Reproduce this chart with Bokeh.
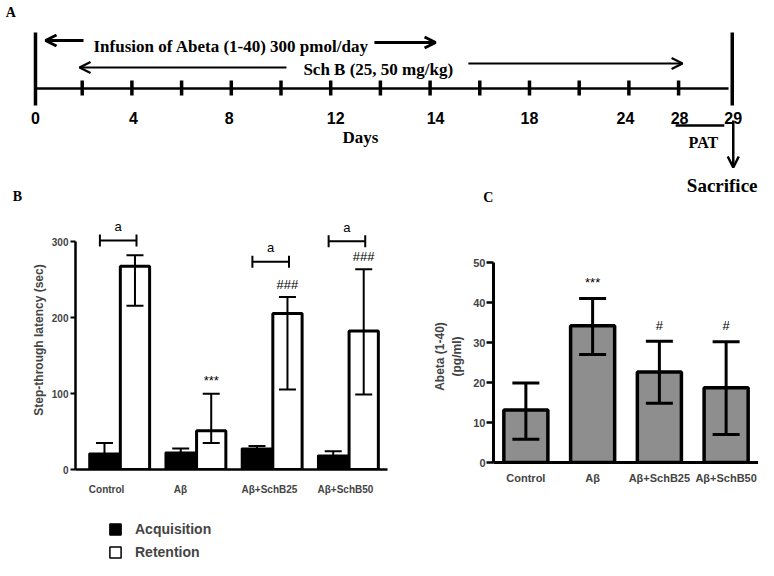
from bokeh.plotting import figure
from bokeh.models import (Range1d, FixedTicker, Whisker, TeeHead, Arrow, OpenHead,
                          ColumnDataSource, Legend, LegendItem)
from bokeh.layouts import column, row
from bokeh.core.properties import value
from bokeh.embed import file_html
from bokeh.resources import INLINE

# ---------------- Panel A : timeline (schematic slots) ----------------
day_labels = ["0", "4", "8", "12", "14", "18", "24", "28", "29"]
day_label_slots = [0.06, 2.03, 3.96, 6.1, 8.11, 10.0, 11.93, 13.02, 14.1]
tick_slots = list(range(1, 14))
timeline_start, timeline_end, end_bar = 0.06, 14.005, 14.08
infusion_text = "Infusion of Abeta (1-40) 300 pmol/day"
schb_text = "Sch B  (25, 50 mg/kg)"

# ---------------- Panel B : step-through latency ----------------
groups = ["Control", "Aβ", "Aβ+SchB25", "Aβ+SchB50"]
acq_mean = [21, 22.4, 27.7, 18.5]
acq_upper = [35, 27.7, 31, 24]
ret_mean = [268, 51, 205.6, 182.7]
ret_upper = [282.5, 100, 227.5, 264]
ret_lower = [216, 35, 105.5, 99]
b_sig = ["", "***", "###", "###"]
bracket_y = [302, None, 274, 301]
b_label_shift = [-0.43, -0.51, -0.09, -0.1]

# ---------------- Panel C : Abeta (1-40) ----------------
c_mean = [13.1, 34.2, 22.6, 18.7]
c_upper = [19.9, 41.0, 30.3, 30.2]
c_lower = [5.8, 27.0, 14.8, 7.0]
c_sig = ["", "***", "#", "#"]

SERIF = "Liberation Serif"
SANS = "Liberation Sans"
NAN = float("nan")

# ====================== Panel A ======================
A_H = 206
pA = figure(width=758, height=A_H, x_range=Range1d(-0.644, 14.608), y_range=Range1d(A_H, 0),
            x_axis_type=None, y_axis_type=None, min_border=0, outline_line_color=None,
            output_backend="svg", toolbar_location=None)
pA.background_fill_color = "white"
pA.segment(x0=[timeline_start, end_bar], y0=[32, 32], x1=[timeline_start, end_bar], y1=[105, 105],
           line_color="black", line_width=3.5)
pA.segment(x0=[timeline_start], y0=[88], x1=[timeline_end], y1=[88], line_color="black", line_width=2.5)
pA.segment(x0=tick_slots, y0=[80] * len(tick_slots), x1=tick_slots, y1=[95] * len(tick_slots),
           line_color="black", line_width=3.5)
pA.text(x=day_label_slots, y=[117] * len(day_labels), text=day_labels, text_align="center",
        text_baseline="middle", text_font=value(SANS), text_font_style="bold", text_font_size="16px")
pA.text(x=[6.6], y=[137], text=["Days"], text_align="center", text_baseline="middle",
        text_font=value(SERIF), text_font_style="bold", text_font_size="17px")
pA.text(x=[1.227], y=[46], text=[infusion_text], text_align="left", text_baseline="middle",
        text_font=value(SERIF), text_font_style="bold", text_font_size="17px")
pA.text(x=[7.0], y=[69], text=[schb_text], text_align="center", text_baseline="middle",
        text_font=value(SERIF), text_font_style="bold", text_font_size="17px")
for xs, ys, xe, ye, lw in [(1.027, 40, 0.262, 40, 3), (6.88, 42, 8.11, 42, 3),
                           (5.11, 67, 0.946, 67, 2.2), (8.77, 63, 13.08, 63, 2.2),
                           (14.1, 120, 14.1, 167, 2.5)]:
    pA.add_layout(Arrow(end=OpenHead(size=11, line_width=lw), x_start=xs, y_start=ys,
                        x_end=xe, y_end=ye, line_width=lw))
pA.segment(x0=[12.94], y0=[125], x1=[13.92], y1=[125], line_color="black", line_width=2.5)
pA.text(x=[13.5], y=[142], text=["PAT"], text_align="center", text_baseline="middle",
        text_font=value(SERIF), text_font_style="bold", text_font_size="16px")
pA.text(x=[14.588], y=[185], text=["Sacrifice"], text_align="right", text_baseline="middle",
        text_font=value(SERIF), text_font_style="bold", text_font_size="19px")
pA.text(x=[-0.54, -0.40, 9.07], y=[12, 196, 197], text=["A", "B", "C"], text_align="left",
        text_baseline="middle", text_font=value(SERIF), text_font_style="bold", text_font_size="14px")

# ====================== Panel B ======================
group_x = [1.45 + 2.5 * i for i in range(len(groups))]
acq_x = [g - 0.5 for g in group_x]
ret_x = [g + 0.5 for g in group_x]
acq_lower = [2 * m - u for m, u in zip(acq_mean, acq_upper)]
b_label_x = [round(g + s, 2) for g, s in zip(group_x, b_label_shift)]

pB = figure(width=430, height=294, x_range=Range1d(0, 10.23), y_range=Range1d(0, 341.4),
            min_border_left=75, min_border_right=43, min_border_top=4, min_border_bottom=31,
            output_backend="svg", toolbar_location=None, outline_line_color=None)
pB.grid.visible = False
pB.vbar(x=acq_x, top=acq_mean, width=1.0, fill_color="black", line_color="black", line_width=2)
pB.vbar(x=ret_x, top=ret_mean, width=0.96, fill_color="white", line_color="black", line_width=3)

srcA = ColumnDataSource(dict(x=acq_x, up=acq_upper, lo=acq_lower))
srcR = ColumnDataSource(dict(x=ret_x, up=ret_upper, lo=ret_lower))
for src in (srcA, srcR):
    w = Whisker(source=src, base="x", upper="up", lower="lo", line_width=2, level="annotation",
                upper_head=TeeHead(size=17, line_width=2), lower_head=TeeHead(size=17, line_width=2))
    pB.add_layout(w)

bx0, bx1, by = [], [], []
for g, yb in zip(group_x, bracket_y):
    if yb is not None:
        bx0.append(g - 0.65)
        bx1.append(g + 0.55)
        by.append(yb)
bsrc = ColumnDataSource(dict(y=by, x0=bx0, x1=bx1))
pB.add_layout(Whisker(source=bsrc, base="y", lower="x0", upper="x1", dimension="width", line_width=2,
                      level="annotation", upper_head=TeeHead(size=12, line_width=2),
                      lower_head=TeeHead(size=12, line_width=2)))
pB.text(x=[(a + b) / 2 for a, b in zip(bx0, bx1)], y=[v + 18 for v in by], text=["a"] * len(by),
        text_align="center", text_baseline="middle", text_font=value(SANS), text_font_size="13px")
pB.text(x=ret_x, y=[u + 17 for u in ret_upper], text=b_sig, text_align="center",
        text_baseline="middle", text_font=value(SANS), text_font_size="13px")

pB.yaxis.ticker = FixedTicker(ticks=[0, 100, 200, 300])
pB.yaxis.bounds = (0, 300)
pB.yaxis.axis_line_width = 2.5
pB.yaxis.major_tick_line_width = 2
pB.yaxis.major_tick_out = 5
pB.yaxis.major_tick_in = 0
pB.yaxis.minor_tick_line_color = None
pB.yaxis.major_label_standoff = 2
pB.yaxis.major_label_text_font = SANS
pB.yaxis.major_label_text_font_style = "bold"
pB.yaxis.major_label_text_font_size = "10px"
pB.yaxis.axis_label = "Step-through latency (sec)"
pB.yaxis.axis_label_text_font = SANS
pB.yaxis.axis_label_text_font_style = "bold"
pB.yaxis.axis_label_text_font_size = "12px"
pB.yaxis.axis_label_standoff = 3

pB.xaxis.ticker = FixedTicker(ticks=b_label_x)
pB.xaxis.major_label_overrides = {x: g for x, g in zip(b_label_x, groups)}
pB.xaxis.axis_line_width = 2.5
pB.xaxis.major_tick_out = 0
pB.xaxis.major_tick_in = 0
pB.xaxis.minor_tick_line_color = None
pB.xaxis.major_label_standoff = 14
pB.xaxis.major_label_text_font = SANS
pB.xaxis.major_label_text_font_style = "bold"
pB.xaxis.major_label_text_font_size = "10px"

# legend figure (below panel B); its frame is aligned with panel B's frame (x = 75)
pL = figure(width=430, height=60, x_range=Range1d(0, 1), y_range=Range1d(0, 1),
            x_axis_type=None, y_axis_type=None, min_border=0, outline_line_color=None,
            output_backend="svg", toolbar_location=None)
rA = pL.vbar(x=[NAN], bottom=[NAN], top=[NAN], width=0.1, fill_color="black",
             line_color="black", line_width=1.5)
rR = pL.vbar(x=[NAN], bottom=[NAN], top=[NAN], width=0.1, fill_color="white",
             line_color="black", line_width=1.5)
leg = Legend(items=[LegendItem(label="Acquisition", renderers=[rA]),
                    LegendItem(label="Retention", renderers=[rR])],
             location=(33, 0), glyph_width=14, glyph_height=14, label_standoff=13, spacing=7,
             label_height=14, padding=0, margin=0, border_line_color=None, background_fill_alpha=0,
             label_text_font=SANS, label_text_font_style="bold", label_text_font_size="14px")
pL.add_layout(leg)

# ====================== Panel C ======================
c_x = [0.485 + i for i in range(len(groups))]
pC = figure(width=328, height=354, x_range=Range1d(0, 3.97), y_range=Range1d(0, 53),
            min_border_left=58, min_border_right=0, min_border_top=44, min_border_bottom=98,
            output_backend="svg", toolbar_location=None, outline_line_color=None)
pC.grid.visible = False
pC.vbar(x=c_x, top=c_mean, width=0.66, fill_color="#8e8e8e", hatch_pattern="v_line",
        hatch_color="#a3a3a3", hatch_scale=4, hatch_weight=1, line_color="black", line_width=3.5)
csrc = ColumnDataSource(dict(x=c_x, up=c_upper, lo=c_lower))
pC.add_layout(Whisker(source=csrc, base="x", upper="up", lower="lo", line_width=3, level="annotation",
                      upper_head=TeeHead(size=27, line_width=3), lower_head=TeeHead(size=27, line_width=3)))
pC.text(x=c_x, y=[u + 4.0 for u in c_upper], text=c_sig, text_align="center", text_baseline="middle",
        text_font=value(SANS), text_font_size="13px")

pC.yaxis.ticker = FixedTicker(ticks=[0, 10, 20, 30, 40, 50])
pC.yaxis.bounds = (0, 50)
pC.yaxis.axis_line_width = 3
pC.yaxis.major_tick_line_width = 2.5
pC.yaxis.major_tick_out = 7
pC.yaxis.major_tick_in = 0
pC.yaxis.minor_tick_line_color = None
pC.yaxis.major_label_standoff = 1
pC.yaxis.major_label_text_font = SANS
pC.yaxis.major_label_text_font_style = "bold"
pC.yaxis.major_label_text_font_size = "11px"
pC.yaxis.axis_label = "Abeta (1-40)\n(pg/ml)"
pC.yaxis.axis_label_text_font = SANS
pC.yaxis.axis_label_text_font_style = "bold"
pC.yaxis.axis_label_text_font_size = "12px"
pC.yaxis.axis_label_standoff = 6

pC.xaxis.ticker = FixedTicker(ticks=c_x)
pC.xaxis.major_label_overrides = {x: g for x, g in zip(c_x, groups)}
pC.xaxis.axis_line_width = 3
pC.xaxis.major_tick_out = 0
pC.xaxis.major_tick_in = 0
pC.xaxis.minor_tick_line_color = None
pC.xaxis.major_label_standoff = 9
pC.xaxis.major_label_text_font = SANS
pC.xaxis.major_label_text_font_style = "bold"
pC.xaxis.major_label_text_font_size = "11px"

layout = column(pA, row(column(pB, pL), pC))
open("out.html", "w").write(file_html(layout, INLINE))
